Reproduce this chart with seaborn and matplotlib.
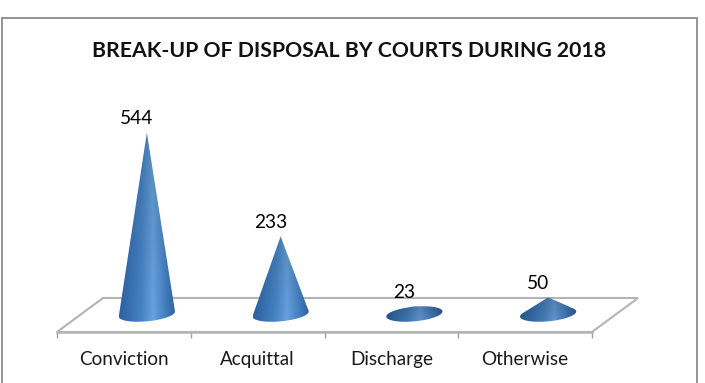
import numpy as np
import matplotlib
matplotlib.use('Agg')
import matplotlib.pyplot as plt
import seaborn as sns
from matplotlib.colors import LinearSegmentedColormap
from matplotlib.patches import Polygon, Rectangle

categories = ['Conviction', 'Acquittal', 'Discharge', 'Otherwise']
values = [544, 233, 23, 50]
title = 'BREAK-UP OF DISPOSAL BY COURTS DURING 2018'

sns.set_theme(style='white')
plt.rcParams['font.family'] = ['Lato', 'DejaVu Sans']

W, H = 705, 383
fig = plt.figure(figsize=(W / 100, H / 100), dpi=100)
ax = fig.add_axes([57 / W, (H - 332) / H, 535 / W, 252 / H])

# outer chart frame, open at the bottom like the cropped original
fig.add_artist(Rectangle((1.5 / W, -0.05), 695.5 / W, (H - 18) / H + 0.05, fill=False,
                         ec='#8c8c8c', lw=1.3, transform=fig.transFigure))

sns.barplot(x=categories, y=values, width=0.42, ax=ax)

ymin, ymax = -54, 702
depth_x, depth_y = 46 / 133.75, 102
shift = 23 / 133.75

# floor of the 3d box
floor = Polygon([(-0.5, ymin), (3.5, ymin), (3.5 + depth_x, ymin + depth_y), (-0.5 + depth_x, ymin + depth_y)],
                closed=True, fc='white', ec='#b4b4b4', lw=1.5, clip_on=False, zorder=1)
ax.add_patch(floor)

cone_cmap = LinearSegmentedColormap.from_list('cone', ['#2c609f', '#3870b0', '#4682c2', '#669fdb', '#4580c0', '#2c5f9c'])
grad = cone_cmap(np.linspace(0, 1, 120))[:, :3]

# turn each seaborn bar into a cone
for bar in list(ax.patches):
    if bar is floor:
        continue
    w = bar.get_width()
    cx = bar.get_x() + w / 2 + shift
    h = bar.get_height()
    bar.set_visible(False)
    a, b, tilt = w / 2, 22, 36
    t0 = np.arcsin(min(b / h, 0.98))
    t = np.linspace(t0, np.pi - t0 - 2 * np.pi, 80)
    xs = a * np.cos(t)
    ys = b * np.sin(t) + tilt * xs
    pts = list(zip(cx + xs, ys)) + [(cx, h)]
    poly = Polygon(pts, closed=True, fc='none', ec='none', transform=ax.transData)
    ax.add_patch(poly)
    img = np.repeat(grad[np.newaxis, :, :], 60, axis=0)
    shade = np.linspace(0.88, 1.02, 60)[:, np.newaxis, np.newaxis]
    if h < 100:
        shade = shade * 0.92
    im = ax.imshow(np.clip(img * shade, 0, 1), extent=(cx - a, cx + a, -b - tilt * a, h), origin='upper',
                   aspect='auto', zorder=3, interpolation='bilinear')
    im.set_clip_path(poly)
    ax.annotate(str(int(h)), (cx, h), xytext=(-7.2, 10), textcoords='offset points',
                ha='center', va='center', fontsize=13.8, color='black', zorder=4, annotation_clip=False)

ax.set_xlim(-0.5, 3.5)
ax.set_ylim(ymin, ymax)
ax.set_yticks([])
ax.set_xticks(range(len(categories)))
ax.set_xticklabels(categories)
ax.set_xticks(np.arange(-0.5, 4), minor=True)
ax.tick_params(axis='x', which='major', length=0, pad=14, labelsize=13.6, colors='#1a1a1a')
ax.tick_params(axis='x', which='minor', bottom=True, length=4.5, width=1, color='#a0a0a0')
sns.despine(ax=ax, left=True, top=True, right=True)
ax.spines['bottom'].set_color('#b4b4b4')
ax.spines['bottom'].set_linewidth(1.8)
ax.patch.set_alpha(0)

fig.text(349 / W, (H - 51) / H, title, ha='center', va='center', fontsize=15.35, fontweight='bold', color='#111111')

fig.savefig('out.png', dpi=100)
